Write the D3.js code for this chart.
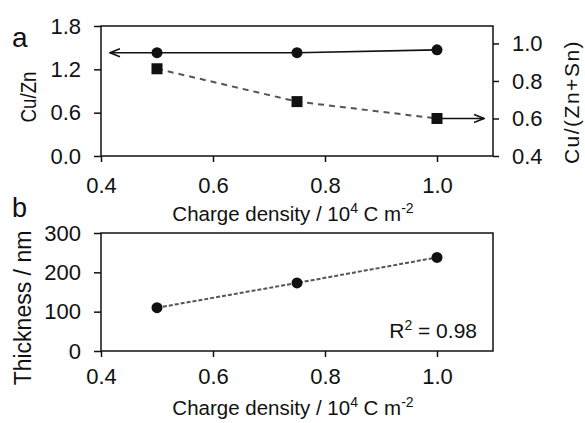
<!DOCTYPE html>
<html>
<head>
<meta charset="utf-8">
<script src="https://cdn.jsdelivr.net/npm/d3@7"></script>
<style>
  body { margin: 0; background: #fff; }
  svg { font-family: Arial, 'Liberation Sans', sans-serif; }
  text { fill: #111; }
</style>
</head>
<body>
<svg id="chart" width="585" height="423"></svg>
<script>
const charge = [0.5, 0.75, 1.0]
const cuZn = [1.43, 1.43, 1.47]
const cuZnSn = [0.865, 0.69, 0.6]
const thickness = [110, 173, 238]
const xTicks = [0.4, 0.6, 0.8, 1.0]
const cuZnTicks = [0.0, 0.6, 1.2, 1.8]
const cuZnSnTicks = [0.4, 0.6, 0.8, 1.0]
const thickTicks = [0, 100, 200, 300]

const svg = d3.select('#chart')
const ink = '#111'

// arrowhead marker
svg.append('defs')
  .append('marker')
  .attr('id', 'arrow')
  .attr('viewBox', '0 0 12 10')
  .attr('refX', 11)
  .attr('refY', 5)
  .attr('markerWidth', 12)
  .attr('markerHeight', 10)
  .attr('markerUnits', 'userSpaceOnUse')
  .attr('orient', 'auto')
  .append('path')
  .attr('d', 'M1,1 L11,5 L1,9')
  .attr('fill', 'none')
  .attr('stroke', ink)
  .attr('stroke-width', 1.5)

const left = 101
const right = 493
const x = d3.scaleLinear().domain([0.4, 1.1]).range([left, right])

const styleAxis = (g) => {
  g.select('.domain').remove()
  g.selectAll('line').attr('stroke', ink).attr('stroke-width', 1.5)
  g.selectAll('text').attr('font-size', 22).attr('fill', ink)
}

const drawFrame = (top, bottom) => {
  svg.append('rect')
    .attr('x', left).attr('y', top)
    .attr('width', right - left).attr('height', bottom - top)
    .attr('fill', 'none').attr('stroke', ink).attr('stroke-width', 1.5)
}

const drawXAxis = (bottom, pad, titleY) => {
  svg.append('g')
    .attr('transform', `translate(0,${bottom})`)
    .call(d3.axisBottom(x).tickValues(xTicks).tickFormat(d3.format('.1f')).tickSize(6).tickPadding(pad))
    .call(styleAxis)
  const t = svg.append('text')
    .attr('x', (left + right) / 2 - 4).attr('y', titleY)
    .attr('text-anchor', 'middle').attr('font-size', 20.5)
  t.append('tspan').text('Charge density / 10')
  t.append('tspan').attr('dy', -8).attr('font-size', 14).text('4')
  t.append('tspan').attr('dy', 8).text(' C m')
  t.append('tspan').attr('dy', -8).attr('font-size', 14).text('-2')
}

// ---- panel a ----
const aTop = 26
const aBottom = 156
const yL = d3.scaleLinear().domain([0, 1.8]).range([aBottom, aTop])
const yR = d3.scaleLinear().domain([0.4, 1.093]).range([aBottom, aTop])

drawFrame(aTop, aBottom)

svg.append('g')
  .attr('transform', `translate(${left},0)`)
  .call(d3.axisLeft(yL).tickValues(cuZnTicks).tickFormat(d3.format('.1f')).tickSize(7).tickPadding(13))
  .call(styleAxis)

svg.append('g')
  .attr('transform', `translate(${right},0)`)
  .call(d3.axisRight(yR).tickValues(cuZnSnTicks).tickFormat(d3.format('.1f')).tickSize(6).tickPadding(13))
  .call(styleAxis)

drawXAxis(aBottom, 15, 221)

svg.append('text')
  .attr('transform', 'translate(36,97) rotate(-90)')
  .attr('text-anchor', 'middle').attr('font-size', 22)
  .attr('textLength', 51).attr('lengthAdjust', 'spacingAndGlyphs')
  .text('Cu/Zn')

svg.append('text')
  .attr('transform', 'translate(579,102) rotate(-90)')
  .attr('text-anchor', 'middle').attr('font-size', 21)
  .attr('letter-spacing', 1.5).text('Cu/(Zn+Sn)')

svg.append('text').attr('x', 12).attr('y', 47).attr('font-size', 28).text('a')

const lineL = d3.line().x((d, i) => x(charge[i])).y((d) => yL(d))
const lineR = d3.line().x((d, i) => x(charge[i])).y((d) => yR(d))

svg.append('path')
  .attr('d', lineR(cuZnSn))
  .attr('fill', 'none').attr('stroke', '#555').attr('stroke-width', 2)
  .attr('stroke-dasharray', '6,5')

svg.append('path')
  .attr('d', lineL(cuZn))
  .attr('fill', 'none').attr('stroke', ink).attr('stroke-width', 1.6)

// arrows pointing to the matching axis
svg.append('line')
  .attr('x1', x(charge[0])).attr('y1', yL(cuZn[0]))
  .attr('x2', x(0.416)).attr('y2', yL(cuZn[0]))
  .attr('stroke', ink).attr('stroke-width', 1.6)
  .attr('marker-end', 'url(#arrow)')

svg.append('line')
  .attr('x1', x(charge[2])).attr('y1', yR(cuZnSn[2]))
  .attr('x2', x(1.084)).attr('y2', yR(cuZnSn[2]))
  .attr('stroke', ink).attr('stroke-width', 1.6)
  .attr('marker-end', 'url(#arrow)')

svg.append('g').selectAll('circle')
  .data(cuZn)
  .join('circle')
  .attr('cx', (d, i) => x(charge[i]))
  .attr('cy', (d) => yL(d))
  .attr('r', 5.5)
  .attr('fill', ink)

const sq = 11
svg.append('g').selectAll('rect')
  .data(cuZnSn)
  .join('rect')
  .attr('x', (d, i) => x(charge[i]) - sq / 2)
  .attr('y', (d) => yR(d) - sq / 2)
  .attr('width', sq).attr('height', sq)
  .attr('fill', ink)

// ---- panel b ----
const bTop = 233
const bBottom = 351
const yT = d3.scaleLinear().domain([0, 300]).range([bBottom, bTop])

drawFrame(bTop, bBottom)

svg.append('g')
  .attr('transform', `translate(${left},0)`)
  .call(d3.axisLeft(yT).tickValues(thickTicks).tickSize(7).tickPadding(13))
  .call(styleAxis)

drawXAxis(bBottom, 11, 415)

svg.append('text')
  .attr('transform', 'translate(31,308) rotate(-90)')
  .attr('text-anchor', 'middle').attr('font-size', 23).text('Thickness / nm')

svg.append('text').attr('x', 12).attr('y', 217).attr('font-size', 27).text('b')

const lineT = d3.line().x((d, i) => x(charge[i])).y((d) => yT(d))

svg.append('path')
  .attr('d', lineT(thickness))
  .attr('fill', 'none').attr('stroke', '#555').attr('stroke-width', 2)
  .attr('stroke-dasharray', '4,2')

svg.append('g').selectAll('circle')
  .data(thickness)
  .join('circle')
  .attr('cx', (d, i) => x(charge[i]))
  .attr('cy', (d) => yT(d))
  .attr('r', 5.5)
  .attr('fill', ink)

const r2 = svg.append('text')
  .attr('x', 477).attr('y', 338)
  .attr('text-anchor', 'end').attr('font-size', 21)
r2.append('tspan').text('R')
r2.append('tspan').attr('dy', -8).attr('font-size', 14).text('2')
r2.append('tspan').attr('dy', 8).text(' = 0.98')
</script>
</body>
</html>
